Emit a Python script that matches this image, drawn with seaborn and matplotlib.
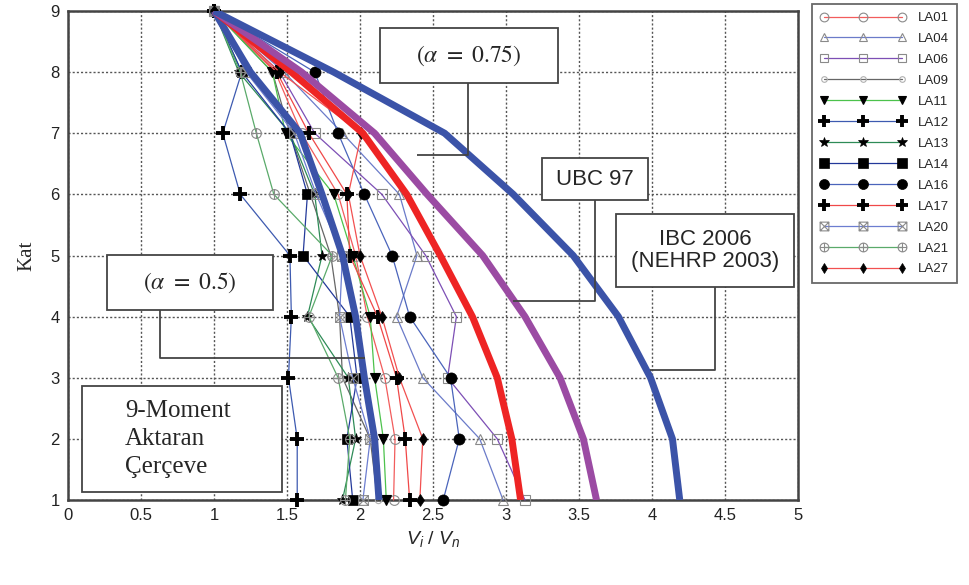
import numpy as np
import pandas as pd
import matplotlib
matplotlib.use('Agg')
import matplotlib.pyplot as plt
import seaborn as sns
from matplotlib.path import Path
from matplotlib.lines import Line2D

# Floors (Kat) from bottom to top
floors = [1, 2, 3, 4, 5, 6, 7, 8, 9]

# Vi / Vn of each ground motion, floor 1 .. floor 9
la01 = [2.23, 2.24, 2.17, 2.05, 1.97, 1.85, 1.60, 1.42, 1.0]
la04 = [2.98, 2.82, 2.43, 2.25, 2.39, 2.27, 1.88, 1.48, 1.0]
la06 = [3.13, 2.94, 2.60, 2.66, 2.45, 2.15, 1.69, 1.45, 1.0]
la09 = [2.12, 2.07, 1.88, 1.86, 1.80, 1.66, 1.52, 1.40, 1.0]
la11 = [2.18, 2.16, 2.10, 2.07, 1.95, 1.82, 1.49, 1.40, 1.0]
la12 = [1.57, 1.57, 1.51, 1.53, 1.52, 1.18, 1.06, 1.19, 1.0]
la13 = [1.88, 1.97, 1.92, 1.64, 1.74, 1.69, 1.52, 1.17, 1.0]
la14 = [1.95, 1.91, 1.98, 1.93, 1.61, 1.64, 1.52, 1.19, 1.0]
la16 = [2.57, 2.68, 2.62, 2.34, 2.22, 2.03, 1.85, 1.69, 1.0]
la17 = [2.34, 2.31, 2.25, 2.12, 1.93, 1.91, 1.65, 1.43, 1.0]
la20 = [2.02, 2.07, 1.95, 1.86, 1.88, 1.70, 1.55, 1.22, 1.0]
la21 = [1.90, 1.93, 1.85, 1.65, 1.81, 1.41, 1.29, 1.18, 1.0]
la27 = [2.41, 2.43, 2.27, 2.15, 2.00, 1.92, 2.01, 1.45, 1.0]

# Code / design curves, floor 1 .. floor 9
alpha_05 = [2.13, 2.10, 2.03, 1.97, 1.88, 1.74, 1.59, 1.25, 1.0]
alpha_075 = [3.10, 3.04, 2.94, 2.77, 2.55, 2.32, 2.02, 1.53, 1.0]
ubc97 = [3.62, 3.53, 3.37, 3.13, 2.84, 2.46, 2.10, 1.60, 1.0]
ibc2006 = [4.19, 4.14, 3.99, 3.77, 3.46, 3.05, 2.58, 1.82, 1.0]

names = ['LA01', 'LA04', 'LA06', 'LA09', 'LA11', 'LA12', 'LA13',
         'LA14', 'LA16', 'LA17', 'LA20', 'LA21', 'LA27']
records = [la01, la04, la06, la09, la11, la12, la13,
           la14, la16, la17, la20, la21, la27]

# custom markers: square with an X, circle with a plus
box_x = Path([[-1, -1], [1, -1], [1, 1], [-1, 1], [-1, -1],
              [-1, -1], [1, 1], [-1, 1], [1, -1]],
             [Path.MOVETO, Path.LINETO, Path.LINETO, Path.LINETO, Path.CLOSEPOLY,
              Path.MOVETO, Path.LINETO, Path.MOVETO, Path.LINETO])
circ_plus = Path.make_compound_path(
    Path.unit_circle(),
    Path([[-1, 0], [1, 0]], [Path.MOVETO, Path.LINETO]),
    Path([[0, -1], [0, 1]], [Path.MOVETO, Path.LINETO]))

grey = '#8a8a8a'
styles = {
    'LA01': dict(color='#f25c5c', marker='o', mfc='none', mec=grey, ms=7, mew=0.8),
    'LA04': dict(color='#6b7bc9', marker='^', mfc='none', mec=grey, ms=7, mew=0.8),
    'LA06': dict(color='#7d4fb5', marker='s', mfc='none', mec=grey, ms=7, mew=0.8),
    'LA09': dict(color='#666666', marker='o', mfc='none', mec='#b0b0b0', ms=4.5, mew=0.8),
    'LA11': dict(color='#4cc24c', marker='v', mfc='black', mec='black', ms=7, mew=0.8),
    'LA12': dict(color='#3d5ab0', marker='+', mfc='black', mec='black', ms=10, mew=2.8),
    'LA13': dict(color='#2e8b57', marker='*', mfc='black', mec='black', ms=8, mew=0.5),
    'LA14': dict(color='#23399a', marker='s', mfc='black', mec='black', ms=7.5, mew=0.5),
    'LA16': dict(color='#4a64bb', marker='o', mfc='black', mec='black', ms=8, mew=0.5),
    'LA17': dict(color='#f04848', marker='+', mfc='black', mec='black', ms=10, mew=2.8),
    'LA20': dict(color='#6c7dd0', marker=box_x, mfc='none', mec=grey, ms=7, mew=0.8),
    'LA21': dict(color='#5aaa6a', marker=circ_plus, mfc='none', mec=grey, ms=7, mew=0.8),
    'LA27': dict(color='#f25050', marker='d', mfc='black', mec='black', ms=6, mew=0.5),
}

df = pd.DataFrame({'floor': floors * len(names),
                   'ratio': np.concatenate(records),
                   'record': np.repeat(names, len(floors))})

sns.set_style('white')
plt.rcParams['font.family'] = ['Liberation Sans', 'DejaVu Sans']
plt.rcParams['mathtext.fontset'] = 'custom'
plt.rcParams['mathtext.it'] = 'Liberation Sans:italic'
plt.rcParams['mathtext.rm'] = 'Liberation Sans'

fig = plt.figure(figsize=(9.69, 5.85), dpi=100)
ax = fig.add_axes([68 / 969, 1 - 500 / 585, 730 / 969, 489 / 585])

# thin lines for every record
for name in names:
    st = styles[name]
    sns.lineplot(data=df[df.record == name], x='ratio', y='floor', sort=False,
                 estimator=None, color=st['color'], lw=0.9, marker=st['marker'],
                 markerfacecolor=st['mfc'], markeredgecolor=st['mec'],
                 markersize=st['ms'], markeredgewidth=st['mew'], ax=ax,
                 legend=False, zorder=3, clip_on=False)

# thick design curves
thick = [(alpha_05, '#3b53a8'), (alpha_075, '#ee2424'),
         (ubc97, '#9b4ba3'), (ibc2006, '#3b53a8')]
for vals, col in thick:
    sns.lineplot(x=vals, y=floors, sort=False, estimator=None, color=col,
                 lw=5, ax=ax, zorder=4, solid_capstyle='butt')

ax.set_xlim(0, 5)
ax.set_ylim(1, 9)
ax.set_xticks(np.arange(0, 5.01, 0.5))
ax.set_xticklabels(['0', '0.5', '1', '1.5', '2', '2.5', '3', '3.5', '4', '4.5', '5'])
ax.set_yticks(floors)
ax.tick_params(labelsize=12, length=0, pad=6, colors='#222222')
ax.grid(True, ls=(0, (1.5, 1.5)), color='#555555', lw=1)
for sp in ax.spines.values():
    sp.set_color('#444444')
    sp.set_linewidth(1.8)

ax.set_xlabel('$V_i$ / $V_n$', fontsize=14, labelpad=4)
ax.set_ylabel('Kat', fontsize=15, family=['Liberation Serif'], labelpad=10)


def label_box(x0, x1, y0, y1, text, tx, ty, **kw):
    ax.add_patch(plt.Rectangle((x0, y0), x1 - x0, y1 - y0, fc='white',
                               ec='#444444', lw=1.3, zorder=6))
    ax.text(tx, ty, text, zorder=7, **kw)


def leader(xs, ys):
    ax.plot(xs, ys, color='#444444', lw=1.3, zorder=5, solid_capstyle='butt')


# annotation boxes with leader lines
leader([2.740, 2.740, 2.390], [7.822, 6.646, 6.646])
label_box(2.137, 3.356, 7.822, 8.722, r'$\left(\alpha\ =\ 0.75\right)$', 2.747, 8.27,
          ha='center', va='center', fontsize=17, math_fontfamily='stix')

leader([3.610, 3.610, 3.048], [5.908, 4.256, 4.256])
label_box(3.247, 3.973, 5.908, 6.595, 'UBC 97', 3.610, 6.25,
          ha='center', va='center', fontsize=16)

leader([4.432, 4.432, 3.986], [4.485, 3.127, 3.127])
label_box(3.753, 4.973, 4.485, 5.679, 'IBC 2006\n(NEHRP 2003)', 4.363, 5.08,
          ha='center', va='center', fontsize=16, linespacing=1.1)

leader([0.630, 0.630, 2.034], [4.108, 3.323, 3.323])
label_box(0.267, 1.404, 4.108, 5.008, r'$\left(\alpha\ =\ 0.5\right)$', 0.836, 4.55,
          ha='center', va='center', fontsize=17, math_fontfamily='stix')

label_box(0.096, 1.466, 1.131, 2.865, '9-Moment\nAktaran\nÇerçeve', 0.39, 2.0,
          ha='left', va='center', fontsize=18, family=['Liberation Serif'],
          linespacing=1.35)

# legend outside the axes
handles = []
for name in names:
    st = styles[name]
    handles.append(Line2D([], [], color=st['color'], lw=0.9, marker=st['marker'],
                          mfc=st['mfc'], mec=st['mec'], ms=st['ms'] * 0.9,
                          mew=st['mew']))
leg = fig.legend(handles, names, loc='upper left',
                 bbox_to_anchor=(812 / 969, 1 - 4 / 585), borderaxespad=0,
                 fontsize=9.5, numpoints=3, handlelength=6.5, labelspacing=0.66,
                 frameon=True, fancybox=False, borderpad=0.6, handletextpad=0.9)
leg.get_frame().set_edgecolor('#444444')
leg.get_frame().set_linewidth(1.3)

fig.savefig('out.png', dpi=100)
